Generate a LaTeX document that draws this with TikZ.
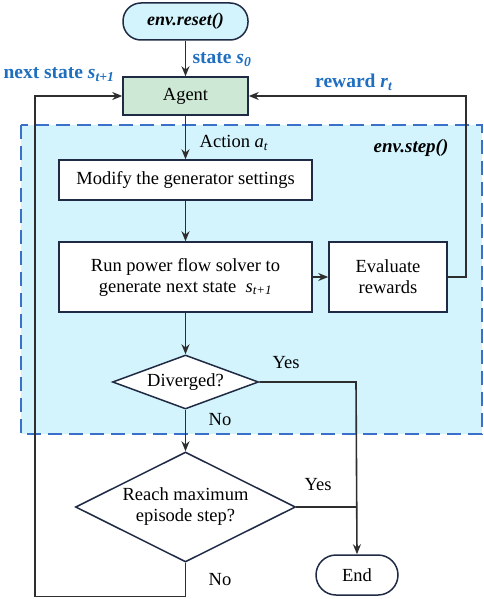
\documentclass[tikz,border=0pt]{standalone}
\usepackage{fontspec}
\setmainfont{Liberation Serif}
\usetikzlibrary{shapes.geometric,arrows.meta}
\definecolor{linec}{HTML}{2E2E2E}
\definecolor{boxc}{HTML}{1F2A44}
\definecolor{lblue}{HTML}{1F6FC0}
\definecolor{dashc}{HTML}{3A70C8}
\definecolor{cyanfill}{HTML}{D3F4FC}
\definecolor{agentfill}{HTML}{CDE8D4}
\newcommand{\isub}[2]{\textit{#1}\textsubscript{\textit{#2}}}
\begin{document}
\begin{tikzpicture}[x=1pt,y=-1pt,
  every node/.style={font=\fontsize{18.5}{21}\selectfont},
  procbox/.style={draw=boxc,line width=1.5pt,fill=white,inner sep=0pt,align=center},
  pill/.style={procbox,rounded corners=18pt},
  decision/.style={draw=boxc,line width=1.5pt,fill=white,diamond,inner sep=0pt,align=center},
  conn/.style={draw=linec,line width=1.6pt},
  arr/.style={conn,-{Stealth[length=10pt,width=8pt]}},
  bluelbl/.style={text=lblue,font=\fontsize{19.5}{21}\selectfont\bfseries},
  lbl/.style={inner sep=0pt}]
\useasboundingbox (0,0) rectangle (484,599);
% environment step region
\draw[dashc,fill=cyanfill,line width=1.8pt,dash pattern=on 14pt off 7pt] (21,125) rectangle (482,434);
\node[lbl,font=\fontsize{19}{21}\selectfont\bfseries\itshape] (steplbl) at (411,148) {env.step()};
% nodes
\node[pill,fill=cyanfill,minimum width=125pt,minimum height=37pt,font=\fontsize{18}{21}\selectfont\bfseries\itshape] (reset) at (185.5,21.5) {env.reset()};
\node[procbox,fill=agentfill,minimum width=125pt,minimum height=38pt] (agent) at (185.5,96) {Agent};
\node[procbox,minimum width=253pt,minimum height=40pt] (modify) at (185.5,180) {Modify the generator settings};
\node[procbox,minimum width=253pt,minimum height=70pt] (run) at (185.5,277) {Run power flow solver to\\generate next state~~\isub{s}{t+1}};
\node[procbox,minimum width=118pt,minimum height=70pt] (eval) at (388,277) {Evaluate\\rewards};
\node[decision,minimum width=146pt,minimum height=54pt,aspect=2.7] (div) at (185.5,382) {Diverged?};
\node[decision,minimum width=220pt,minimum height=110pt,aspect=2] (reach) at (185.5,507) {Reach maximum\\episode step?};
\node[pill,rounded corners=20pt,minimum width=82pt,minimum height=40pt] (end) at (357,575) {End};
% helper coordinates
\coordinate (rr) at (466,277);
\coordinate (dj) at (356,382);
\coordinate (rj) at (356,507);
\coordinate (bb) at (185.5,596.5);
\coordinate (bl) at (35,596.5);
% connectors
\draw[arr] (reset.south) -- (agent.north);
\draw[arr] (agent.south) -- (modify.north);
\draw[arr] (modify.south) -- (run.north);
\draw[arr] (run.east) -- (eval.west);
\draw[arr] (eval.east) -- (rr) |- (agent.east);
\draw[arr] (run.south) -- (div.north);
\draw[arr] (div.east) -- (dj) -- (end.north);
\draw[conn] (reach.east) -- (rj);
\draw[arr] (div.south) -- (reach.north);
\draw[arr] (reach.south) -- (bb) -- (bl) |- (agent.west);
% labels
\node[lbl,bluelbl] (ls0) at (222,60) {state \isub{s}{0}};
\node[lbl,bluelbl] (lnext) at (59,75) {next state \isub{s}{t+1}};
\node[lbl,bluelbl] (lrew) at (354,82) {reward \isub{r}{t}};
\node[lbl] (lact) at (234,143) {Action \isub{a}{t}};
\node[lbl] (ly1) at (286,363) {Yes};
\node[lbl] (ln1) at (220,420) {No};
\node[lbl] (ly2) at (318,485) {Yes};
\node[lbl] (ln2) at (220,580) {No};
\end{tikzpicture}
\end{document}
